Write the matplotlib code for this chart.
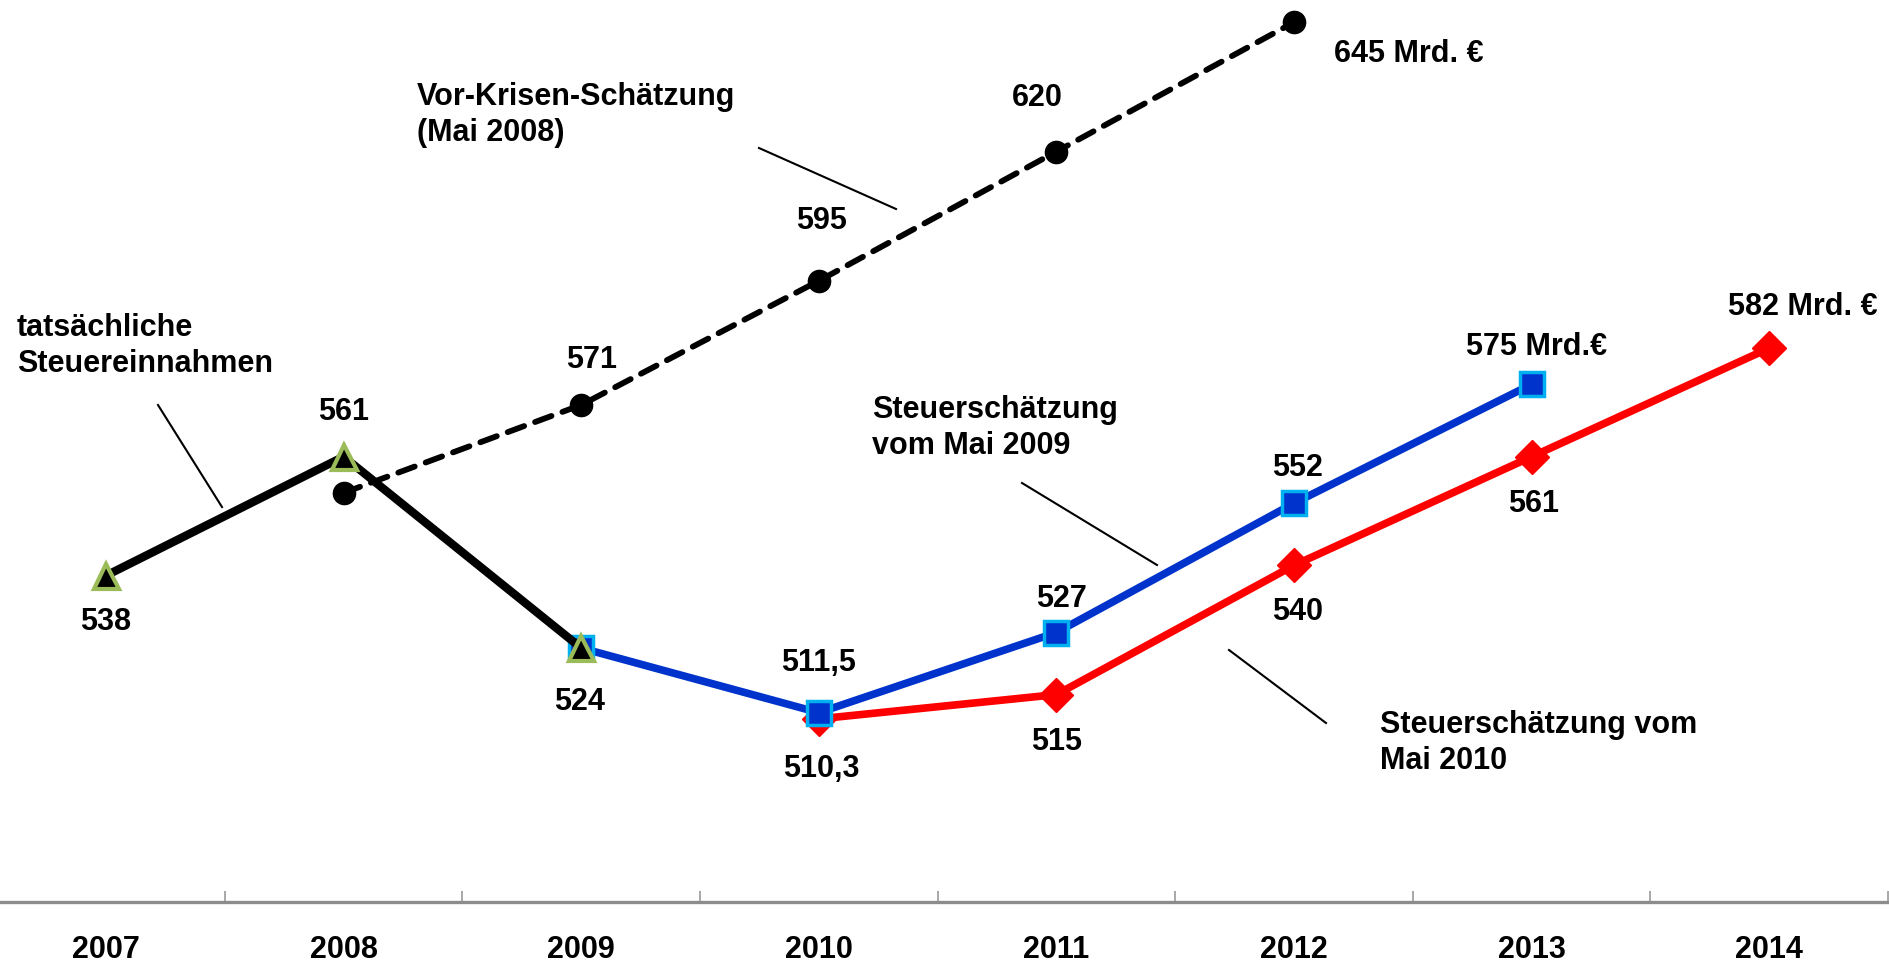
import matplotlib
matplotlib.use("Agg")
import matplotlib.pyplot as plt
from matplotlib.lines import Line2D

plt.rcParams['font.family'] = ['Liberation Sans', 'DejaVu Sans']
plt.rcParams['font.weight'] = 'bold'

# ---------------- data ----------------
years = ["2007", "2008", "2009", "2010", "2011", "2012", "2013", "2014"]

actual_x = [0, 1, 2]
actual_v = [538, 561, 524]
actual_lbl = ["538", "561", "524"]

precrisis_x = [1, 2, 3, 4, 5]
precrisis_v = [554, 571, 595, 620, 645]
precrisis_lbl = [None, "571", "595", "620", "645 Mrd. €"]

est2009_x = [2, 3, 4, 5, 6]
est2009_v = [524, 511.5, 527, 552, 575]
est2009_lbl = [None, "511,5", "527", "552", "575 Mrd.€"]

est2010_x = [3, 4, 5, 6, 7]
est2010_v = [510.3, 515, 540, 561, 582]
est2010_lbl = ["510,3", "515", "540", "561", "582 Mrd. €"]

# ---------------- figure ----------------
W, H, DPI = 1890, 966, 100
fig = plt.figure(figsize=(W / DPI, H / DPI), dpi=DPI)
ax = fig.add_axes([0, 0.0663, 1, 0.9337])
ax.set_xlim(-0.446, 7.508)
ax.set_ylim(474.9, 649.3)

FS = 22
PX = 0.72  # points per pixel at 100 dpi

# pre-crisis dashed line (bottom)
ax.plot(precrisis_x, precrisis_v, color='black', lw=4.2, linestyle=(0, (3.0, 2.0)),
        dash_capstyle='round', marker='o', ms=16, mfc='black', mec='black',
        zorder=2, clip_on=False)
# May 2010 estimate (red)
ax.plot(est2010_x, est2010_v, color='#FF0000', lw=5.5, marker='D', ms=17,
        mfc='#FF0000', mec='#FF0000', zorder=3, clip_on=False)
# May 2009 estimate (blue)
ax.plot(est2009_x, est2009_v, color='#0033CC', lw=5.5, marker='s', ms=17,
        mfc='#0033CC', mec='#00B0F0', mew=2.5, zorder=4, clip_on=False)
# actual revenue (black)
ax.plot(actual_x, actual_v, color='black', lw=6, marker='^', ms=18,
        mfc='black', mec='#9BBB59', mew=3, zorder=5, clip_on=False)

def label(x, v, s, dx, dy, ha='center'):
    if s is None:
        return
    ax.annotate(s, xy=(x, v), xytext=(dx * PX, -dy * PX), textcoords='offset points',
                ha=ha, va='baseline', fontsize=FS, fontweight='bold', color='black',
                zorder=10)

# offsets (pixels, y downward) from point to label baseline
act_off = [(0, 54), (0, -37), (-2, 62)]
for x, v, s, (dx, dy) in zip(actual_x, actual_v, actual_lbl, act_off):
    label(x, v, s, dx, dy)

pre_off = [(0, 0), (10, -37), (3, -52), (-19, -46), (40, 40)]
for i, (x, v, s, (dx, dy)) in enumerate(zip(precrisis_x, precrisis_v, precrisis_lbl, pre_off)):
    label(x, v, s, dx, dy, ha='left' if i == len(precrisis_x) - 1 else 'center')

e09_off = [(0, 0), (0, -42), (5, -26), (3, -27), (5, -29)]
for x, v, s, (dx, dy) in zip(est2009_x, est2009_v, est2009_lbl, e09_off):
    label(x, v, s, dx, dy)

e10_off = [(3, 58), (0, 55), (4, 55), (2, 55), (34, -33)]
for x, v, s, (dx, dy) in zip(est2010_x, est2010_v, est2010_lbl, e10_off):
    label(x, v, s, dx, dy)

# series annotations with leader lines (figure pixel positions)
PITCH = 34

def ftext(xp, yp_first, s):
    n = s.count("\n")
    yp = yp_first + PITCH * n  # va='baseline' anchors the last line
    fig.text(xp / W, 1 - yp / H, s, ha='left', va='baseline', fontsize=FS,
             fontweight='bold', linespacing=1.24, color='black')

def fline(x0, y0, x1, y1):
    fig.add_artist(Line2D([x0 / W, x1 / W], [1 - y0 / H, 1 - y1 / H],
                          color='black', lw=1.5, transform=fig.transFigure))

ftext(17, 338, "tatsächliche\nSteuereinnahmen")
fline(158, 405, 222, 507)
ftext(417, 107, "Vor-Krisen-Schätzung\n(Mai 2008)")
fline(759, 148, 896, 209)
ftext(872, 420, "Steuerschätzung\nvom Mai 2009")
fline(1022, 483, 1157, 565)
ftext(1380, 735, "Steuerschätzung vom\nMai 2010")
fline(1229, 650, 1326, 723)

# axes styling
for sp in ['left', 'right', 'top']:
    ax.spines[sp].set_visible(False)
ax.spines['bottom'].set_color('#8C8C8C')
ax.spines['bottom'].set_linewidth(2.4)
ax.set_yticks([])
ax.set_xticks(range(len(years)))
ax.set_xticklabels(years, fontsize=FS, fontweight='bold')
ax.set_xticks([i + 0.5 for i in range(len(years))], minor=True)
ax.tick_params(axis='x', which='major', length=0, pad=24)
ax.tick_params(axis='x', which='minor', direction='in', length=8, width=1.2,
               color='#999999')
ax.patch.set_alpha(0)

fig.savefig("out.png", dpi=DPI, facecolor='white')
